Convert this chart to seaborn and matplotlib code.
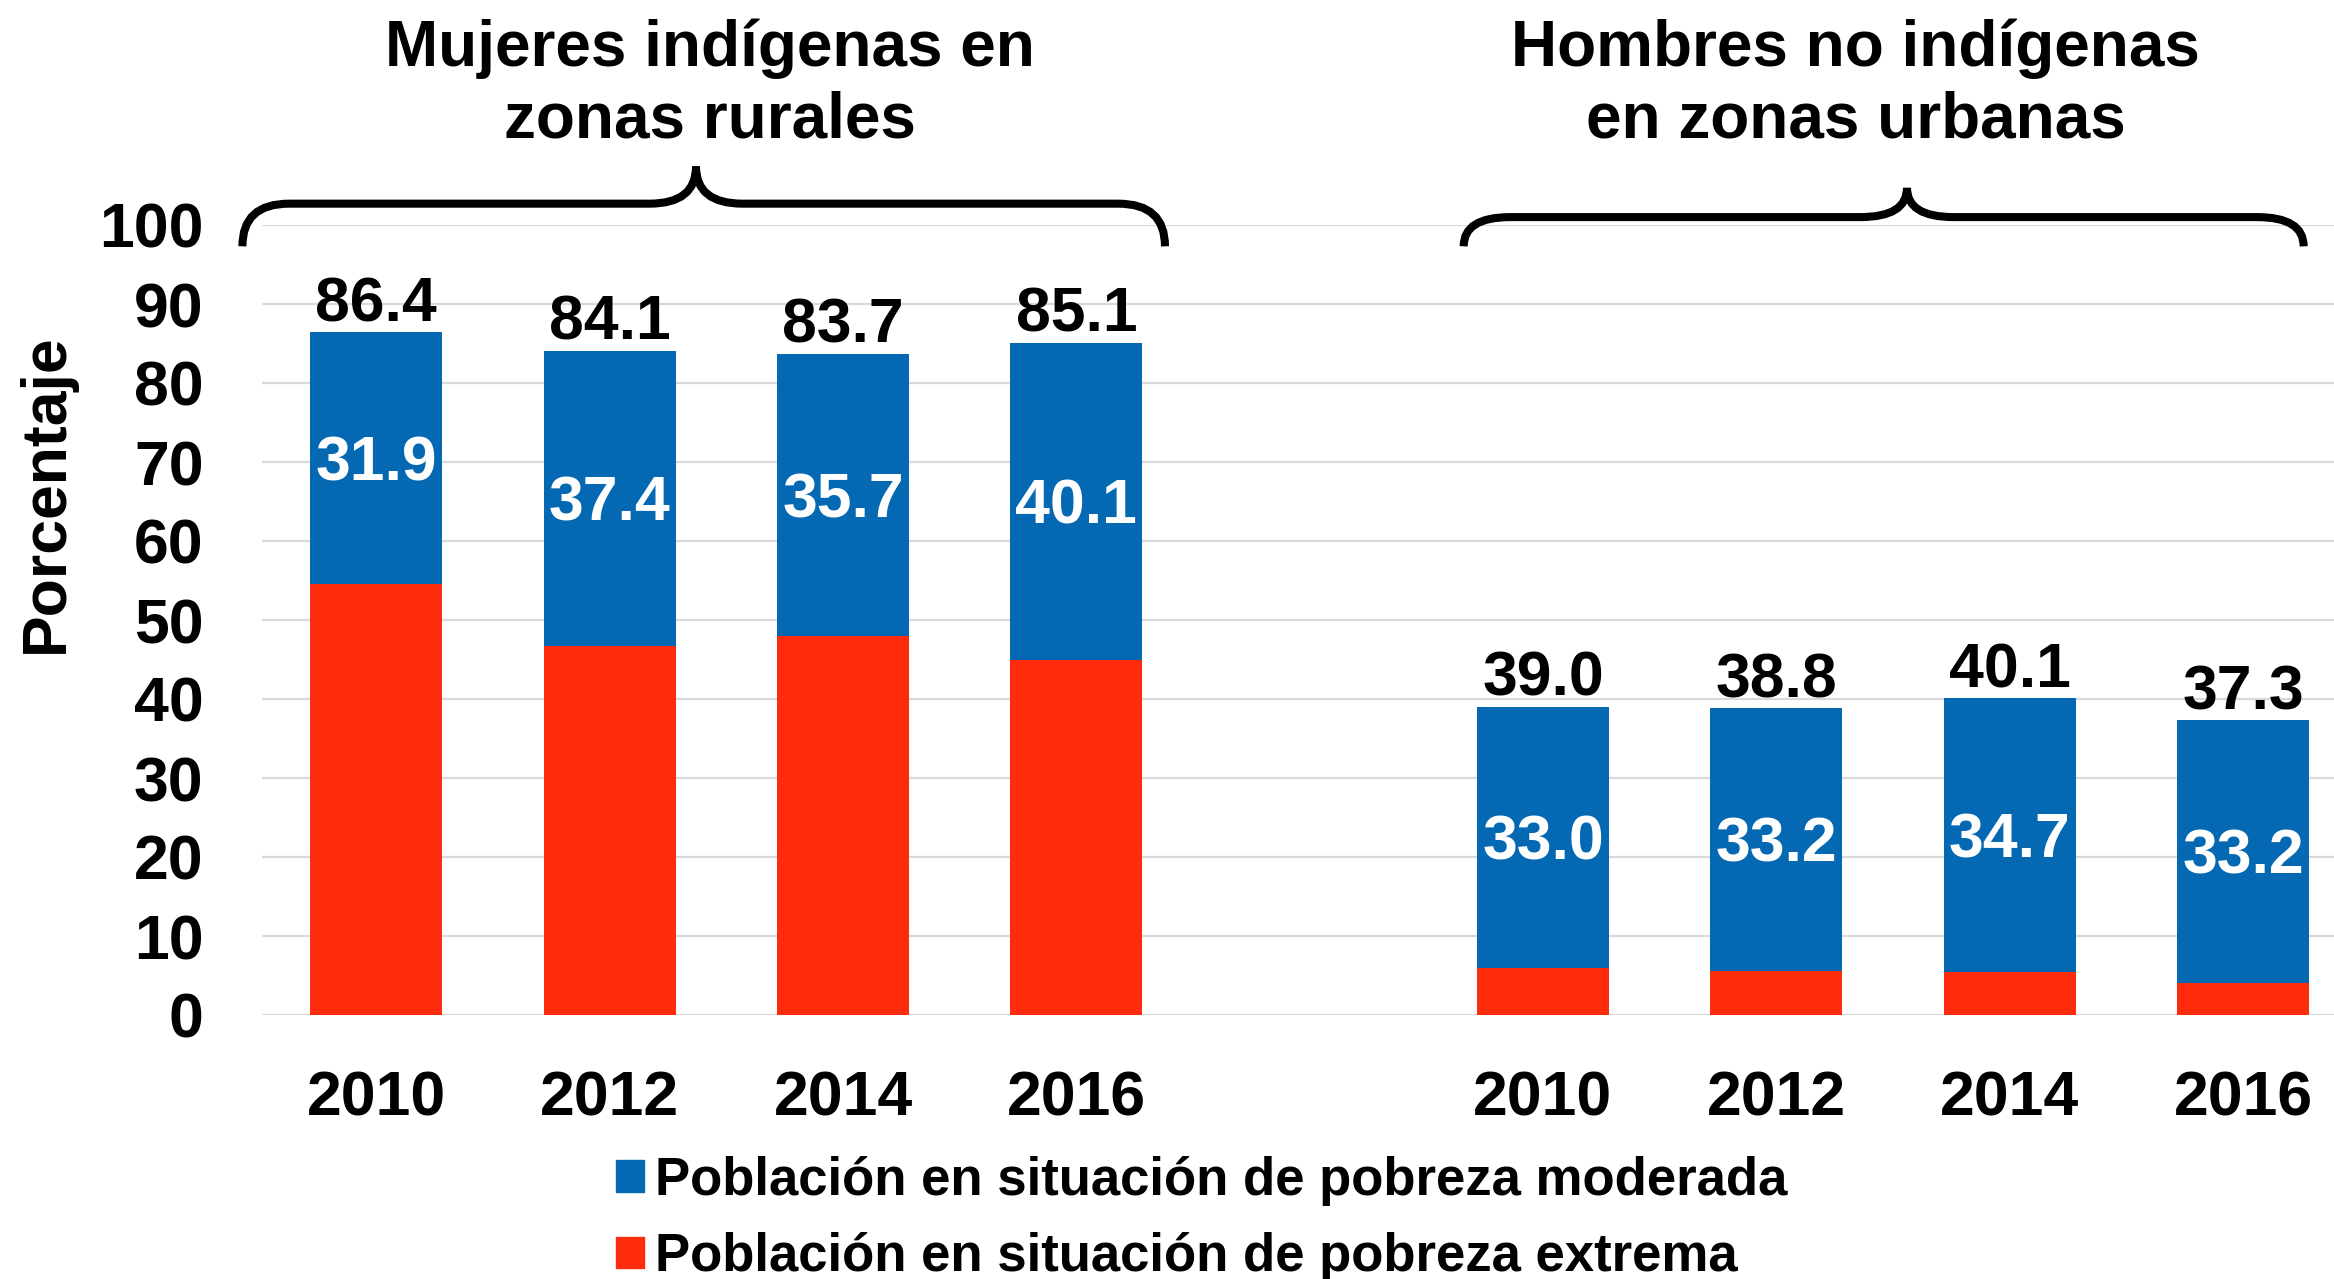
import matplotlib
matplotlib.use('Agg')
import matplotlib.pyplot as plt
import matplotlib.transforms as mtransforms
from matplotlib.path import Path
from matplotlib.patches import PathPatch, Patch
import seaborn as sns
import pandas as pd

# datos
anios = ['2010', '2012', '2014', '2016']
grupos = ['Mujeres indígenas en\nzonas rurales', 'Hombres no indígenas\nen zonas urbanas']
total_mujeres = [86.4, 84.1, 83.7, 85.1]
moderada_mujeres = [31.9, 37.4, 35.7, 40.1]
total_hombres = [39.0, 38.8, 40.1, 37.3]
moderada_hombres = [33.0, 33.2, 34.7, 33.2]
leyenda = ['Población en situación de pobreza moderada',
           'Población en situación de pobreza extrema']

azul = '#0469B2'
rojo = '#FE2C0C'

posiciones = [0, 1, 2, 3, 5, 6, 7, 8]
df = pd.DataFrame({
    'pos': posiciones,
    'anio': anios + anios,
    'total': total_mujeres + total_hombres,
    'moderada': moderada_mujeres + moderada_hombres,
})
df['extrema'] = df['total'] - df['moderada']

sns.set_style('white')
plt.rcParams['font.family'] = ['Liberation Sans', 'DejaVu Sans']
plt.rcParams['font.weight'] = 'bold'
for k in ['text.color', 'axes.labelcolor', 'xtick.color', 'ytick.color']:
    plt.rcParams[k] = 'black'

fig = plt.figure(figsize=(23.34, 12.79), dpi=100)
ax = fig.add_axes([262 / 2334, 1 - 1015 / 1279, (2334 - 262) / 2334, (1015 - 225) / 1279])

sns.barplot(data=df, x='pos', y='total', native_scale=True, color=azul, saturation=1,
            width=0.566, errorbar=None, linewidth=0, ax=ax)
sns.barplot(data=df, x='pos', y='extrema', native_scale=True, color=rojo, saturation=1,
            width=0.566, errorbar=None, linewidth=0, ax=ax)

for _, fila in df.iterrows():
    ax.annotate(f"{fila['total']:.1f}", (fila['pos'], fila['total']), xytext=(0, 8),
                textcoords='offset points', ha='center', va='baseline',
                fontsize=45, fontweight='bold', color='black')
    ax.annotate(f"{fila['moderada']:.1f}", (fila['pos'], fila['extrema'] + fila['moderada'] / 2),
                xytext=(0, -16), textcoords='offset points', ha='center', va='baseline',
                fontsize=45, fontweight='bold', color='white')

ax.set_xlim(-0.49, 8.39)
ax.set_ylim(0, 100)
ax.set_yticks(range(0, 101, 10))
ax.set_xticks(posiciones)
ax.set_xticklabels(anios + anios)
ax.tick_params(axis='both', length=0, labelsize=45)
ax.tick_params(axis='x', pad=39)
ax.tick_params(axis='y', pad=42)
for lbl in ax.get_xticklabels() + ax.get_yticklabels():
    lbl.set_fontweight('bold')
ax.yaxis.grid(True, color='#D9D9D9', lw=1.6)
ax.set_axisbelow(True)
for s in ax.spines.values():
    s.set_visible(False)
ax.set_xlabel('')
ax.set_ylabel('Porcentaje', fontsize=45, fontweight='bold')
ax.yaxis.set_label_coords(-0.09, 0.66)

# llaves sobre cada grupo
trans = mtransforms.blended_transform_factory(ax.transData, ax.transAxes)


def llave(x0, x1, xm, y_fin, y_h, y_pico, r=0.2):
    verts = [(x0, y_fin), (x0, y_h), (x0 + r, y_h),
             (xm - r, y_h), (xm, y_h), (xm, y_pico),
             (xm, y_h), (xm + r, y_h),
             (x1 - r, y_h), (x1, y_h), (x1, y_fin)]
    codes = [Path.MOVETO, Path.CURVE3, Path.CURVE3,
             Path.LINETO, Path.CURVE3, Path.CURVE3,
             Path.CURVE3, Path.CURVE3,
             Path.LINETO, Path.CURVE3, Path.CURVE3]
    ax.add_patch(PathPatch(Path(verts, codes), fill=False, lw=5.8, color='black',
                           transform=trans, clip_on=False, capstyle='butt'))


llave(-0.574, 3.38, 1.37, 0.973, 1.027, 1.074)
llave(4.66, 8.26, 6.56, 0.973, 1.010, 1.047)

for xc, titulo in zip([1.43, 6.34], grupos):
    ax.text(xc, 1.178, titulo, transform=trans, ha='center', va='center',
            multialignment='center', fontsize=46, fontweight='bold', linespacing=1.23)

handles = [Patch(color=azul, label=leyenda[0]), Patch(color=rojo, label=leyenda[1])]
fig.legend(handles=handles, loc='center left', bbox_to_anchor=(0.264, 0.047),
           frameon=False, prop={'size': 38, 'weight': 'bold'}, handlelength=0.53,
           handleheight=0.53, handletextpad=0.2, labelspacing=0.5,
           borderpad=0, borderaxespad=0)

fig.savefig('out.png', dpi=100)
